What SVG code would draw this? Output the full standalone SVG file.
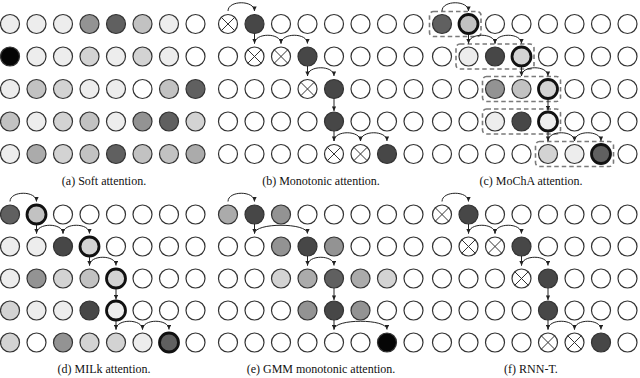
<svg xmlns="http://www.w3.org/2000/svg" xmlns:xlink="http://www.w3.org/1999/xlink" width="640" height="378" viewBox="0 0 640 378">
<style>
.panel{fill:#fff;stroke:#333;stroke-width:1.2}
.f1{fill:#ededed}.f2{fill:#d3d3d3}.f3{fill:#c2c2c2}.f4{fill:#ababab}.f5{fill:#939393}.f6{fill:#606060}.f7{fill:#474747}.f8{fill:#050505}
.k{stroke:#111;stroke-width:2.8}
.conn path{fill:none;stroke:#222;stroke-width:1}
.conn .arr{marker-end:url(#ah)}
.box rect{fill:none;stroke:#7a7a7a;stroke-width:1.6;stroke-dasharray:4.5 3}
.cap{font-family:"Liberation Serif","Times New Roman",serif;font-size:12px;fill:#111;text-anchor:middle}
</style>
<defs>
<circle id="c" r="9.5"/>
<g id="xn"><circle r="9.5"/><path d="M-6.7,-6.7L6.7,6.7M-6.7,6.7L6.7,-6.7" fill="none" stroke-width="1"/></g>
<marker id="ah" markerUnits="userSpaceOnUse" markerWidth="5" markerHeight="4.4" refX="4.6" refY="2.2" orient="auto"><path d="M0,0L4.6,2.2L0,4.4z" fill="#222"/></marker>
</defs>

<!-- Panel (a) -->
<g id="panel-a" class="panel" transform="translate(10,24)">
<g id="a11"><use href="#c" x="0" y="0" class="f1"/></g><g id="a12"><use href="#c" x="26.5" y="0" class="f1"/></g><g id="a13"><use href="#c" x="53" y="0" class="f1"/></g><g id="a14"><use href="#c" x="79.5" y="0" class="f5"/></g><g id="a15"><use href="#c" x="106" y="0" class="f6"/></g><g id="a16"><use href="#c" x="132.5" y="0" class="f3"/></g><g id="a17"><use href="#c" x="159" y="0" class="f1"/></g><g id="a18"><use href="#c" x="185.5" y="0"/></g>
<g id="a21"><use href="#c" x="0" y="32.5" class="f8"/></g><g id="a22"><use href="#c" x="26.5" y="32.5" class="f1"/></g><g id="a23"><use href="#c" x="53" y="32.5" class="f1"/></g><g id="a24"><use href="#c" x="79.5" y="32.5" class="f2"/></g><g id="a25"><use href="#c" x="106" y="32.5" class="f1"/></g><g id="a26"><use href="#c" x="132.5" y="32.5" class="f2"/></g><g id="a27"><use href="#c" x="159" y="32.5" class="f1"/></g><g id="a28"><use href="#c" x="185.5" y="32.5"/></g>
<g id="a31"><use href="#c" x="0" y="65" class="f1"/></g><g id="a32"><use href="#c" x="26.5" y="65" class="f3"/></g><g id="a33"><use href="#c" x="53" y="65" class="f2"/></g><g id="a34"><use href="#c" x="79.5" y="65" class="f1"/></g><g id="a35"><use href="#c" x="106" y="65" class="f1"/></g><g id="a36"><use href="#c" x="132.5" y="65"/></g><g id="a37"><use href="#c" x="159" y="65" class="f3"/></g><g id="a38"><use href="#c" x="185.5" y="65" class="f6"/></g>
<g id="a41"><use href="#c" x="0" y="97.5" class="f3"/></g><g id="a42"><use href="#c" x="26.5" y="97.5" class="f1"/></g><g id="a43"><use href="#c" x="53" y="97.5" class="f2"/></g><g id="a44"><use href="#c" x="79.5" y="97.5" class="f3"/></g><g id="a45"><use href="#c" x="106" y="97.5" class="f1"/></g><g id="a46"><use href="#c" x="132.5" y="97.5" class="f5"/></g><g id="a47"><use href="#c" x="159" y="97.5" class="f6"/></g><g id="a48"><use href="#c" x="185.5" y="97.5" class="f2"/></g>
<g id="a51"><use href="#c" x="0" y="130" class="f1"/></g><g id="a52"><use href="#c" x="26.5" y="130" class="f4"/></g><g id="a53"><use href="#c" x="53" y="130" class="f2"/></g><g id="a54"><use href="#c" x="79.5" y="130" class="f3"/></g><g id="a55"><use href="#c" x="106" y="130" class="f6"/></g><g id="a56"><use href="#c" x="132.5" y="130" class="f3"/></g><g id="a57"><use href="#c" x="159" y="130" class="f3"/></g><g id="a58"><use href="#c" x="185.5" y="130" class="f4"/></g>
</g>

<!-- Panel (b) -->
<g id="panel-b" class="panel" transform="translate(228,24)">
<g id="b11"><use href="#xn" x="0" y="0"/></g><g id="b12"><use href="#c" x="26.5" y="0" class="f7"/></g><g id="b13"><use href="#c" x="53" y="0"/></g><g id="b14"><use href="#c" x="79.5" y="0"/></g><g id="b15"><use href="#c" x="106" y="0"/></g><g id="b16"><use href="#c" x="132.5" y="0"/></g><g id="b17"><use href="#c" x="159" y="0"/></g><g id="b18"><use href="#c" x="185.5" y="0"/></g>
<g id="b21"><use href="#c" x="0" y="32.5"/></g><g id="b22"><use href="#xn" x="26.5" y="32.5"/></g><g id="b23"><use href="#xn" x="53" y="32.5"/></g><g id="b24"><use href="#c" x="79.5" y="32.5" class="f7"/></g><g id="b25"><use href="#c" x="106" y="32.5"/></g><g id="b26"><use href="#c" x="132.5" y="32.5"/></g><g id="b27"><use href="#c" x="159" y="32.5"/></g><g id="b28"><use href="#c" x="185.5" y="32.5"/></g>
<g id="b31"><use href="#c" x="0" y="65"/></g><g id="b32"><use href="#c" x="26.5" y="65"/></g><g id="b33"><use href="#c" x="53" y="65"/></g><g id="b34"><use href="#xn" x="79.5" y="65"/></g><g id="b35"><use href="#c" x="106" y="65" class="f7"/></g><g id="b36"><use href="#c" x="132.5" y="65"/></g><g id="b37"><use href="#c" x="159" y="65"/></g><g id="b38"><use href="#c" x="185.5" y="65"/></g>
<g id="b41"><use href="#c" x="0" y="97.5"/></g><g id="b42"><use href="#c" x="26.5" y="97.5"/></g><g id="b43"><use href="#c" x="53" y="97.5"/></g><g id="b44"><use href="#c" x="79.5" y="97.5"/></g><g id="b45"><use href="#c" x="106" y="97.5" class="f7"/></g><g id="b46"><use href="#c" x="132.5" y="97.5"/></g><g id="b47"><use href="#c" x="159" y="97.5"/></g><g id="b48"><use href="#c" x="185.5" y="97.5"/></g>
<g id="b51"><use href="#c" x="0" y="130"/></g><g id="b52"><use href="#c" x="26.5" y="130"/></g><g id="b53"><use href="#c" x="53" y="130"/></g><g id="b54"><use href="#c" x="79.5" y="130"/></g><g id="b55"><use href="#xn" x="106" y="130"/></g><g id="b56"><use href="#xn" x="132.5" y="130"/></g><g id="b57"><use href="#c" x="159" y="130" class="f7"/></g><g id="b58"><use href="#c" x="185.5" y="130"/></g>
</g>

<!-- Panel (c) -->
<g id="panel-c" class="panel" transform="translate(442,24)">
<g id="c11"><use href="#c" x="0" y="0" class="f6"/></g><g id="c12"><use href="#c" x="26.5" y="0" class="f3 k"/></g><g id="c13"><use href="#c" x="53" y="0"/></g><g id="c14"><use href="#c" x="79.5" y="0"/></g><g id="c15"><use href="#c" x="106" y="0"/></g><g id="c16"><use href="#c" x="132.5" y="0"/></g><g id="c17"><use href="#c" x="159" y="0"/></g><g id="c18"><use href="#c" x="185.5" y="0"/></g>
<g id="c21"><use href="#c" x="0" y="32.5"/></g><g id="c22"><use href="#c" x="26.5" y="32.5" class="f1"/></g><g id="c23"><use href="#c" x="53" y="32.5" class="f7"/></g><g id="c24"><use href="#c" x="79.5" y="32.5" class="f2 k"/></g><g id="c25"><use href="#c" x="106" y="32.5"/></g><g id="c26"><use href="#c" x="132.5" y="32.5"/></g><g id="c27"><use href="#c" x="159" y="32.5"/></g><g id="c28"><use href="#c" x="185.5" y="32.5"/></g>
<g id="c31"><use href="#c" x="0" y="65"/></g><g id="c32"><use href="#c" x="26.5" y="65"/></g><g id="c33"><use href="#c" x="53" y="65" class="f5"/></g><g id="c34"><use href="#c" x="79.5" y="65" class="f3"/></g><g id="c35"><use href="#c" x="106" y="65" class="f2 k"/></g><g id="c36"><use href="#c" x="132.5" y="65"/></g><g id="c37"><use href="#c" x="159" y="65"/></g><g id="c38"><use href="#c" x="185.5" y="65"/></g>
<g id="c41"><use href="#c" x="0" y="97.5"/></g><g id="c42"><use href="#c" x="26.5" y="97.5"/></g><g id="c43"><use href="#c" x="53" y="97.5" class="f1"/></g><g id="c44"><use href="#c" x="79.5" y="97.5" class="f7"/></g><g id="c45"><use href="#c" x="106" y="97.5" class="f1 k"/></g><g id="c46"><use href="#c" x="132.5" y="97.5"/></g><g id="c47"><use href="#c" x="159" y="97.5"/></g><g id="c48"><use href="#c" x="185.5" y="97.5"/></g>
<g id="c51"><use href="#c" x="0" y="130"/></g><g id="c52"><use href="#c" x="26.5" y="130"/></g><g id="c53"><use href="#c" x="53" y="130"/></g><g id="c54"><use href="#c" x="79.5" y="130"/></g><g id="c55"><use href="#c" x="106" y="130" class="f2"/></g><g id="c56"><use href="#c" x="132.5" y="130" class="f1"/></g><g id="c57"><use href="#c" x="159" y="130" class="f6 k"/></g><g id="c58"><use href="#c" x="185.5" y="130"/></g>
<g id="c-boxes" class="box">
<rect x="-12.5" y="-12.5" width="51.5" height="25" rx="4"/>
<rect x="14" y="20" width="78" height="25" rx="4"/>
<rect x="40.5" y="52.5" width="78" height="25" rx="4"/>
<rect x="40.5" y="85" width="78" height="25" rx="4"/>
<rect x="93.5" y="117.5" width="78" height="25" rx="4"/>
</g>
</g>

<!-- Panel (d) -->
<g id="panel-d" class="panel" transform="translate(10,214.5)">
<g id="d11"><use href="#c" x="0" y="0" class="f6"/></g><g id="d12"><use href="#c" x="26.5" y="0" class="f3 k"/></g><g id="d13"><use href="#c" x="53" y="0"/></g><g id="d14"><use href="#c" x="79.5" y="0"/></g><g id="d15"><use href="#c" x="106" y="0"/></g><g id="d16"><use href="#c" x="132.5" y="0"/></g><g id="d17"><use href="#c" x="159" y="0"/></g><g id="d18"><use href="#c" x="185.5" y="0"/></g>
<g id="d21"><use href="#c" x="0" y="32" class="f1"/></g><g id="d22"><use href="#c" x="26.5" y="32" class="f1"/></g><g id="d23"><use href="#c" x="53" y="32" class="f7"/></g><g id="d24"><use href="#c" x="79.5" y="32" class="f2 k"/></g><g id="d25"><use href="#c" x="106" y="32"/></g><g id="d26"><use href="#c" x="132.5" y="32"/></g><g id="d27"><use href="#c" x="159" y="32"/></g><g id="d28"><use href="#c" x="185.5" y="32"/></g>
<g id="d31"><use href="#c" x="0" y="64" class="f1"/></g><g id="d32"><use href="#c" x="26.5" y="64" class="f5"/></g><g id="d33"><use href="#c" x="53" y="64" class="f2"/></g><g id="d34"><use href="#c" x="79.5" y="64" class="f3"/></g><g id="d35"><use href="#c" x="106" y="64" class="f2 k"/></g><g id="d36"><use href="#c" x="132.5" y="64"/></g><g id="d37"><use href="#c" x="159" y="64"/></g><g id="d38"><use href="#c" x="185.5" y="64"/></g>
<g id="d41"><use href="#c" x="0" y="96" class="f2"/></g><g id="d42"><use href="#c" x="26.5" y="96" class="f1"/></g><g id="d43"><use href="#c" x="53" y="96" class="f1"/></g><g id="d44"><use href="#c" x="79.5" y="96" class="f7"/></g><g id="d45"><use href="#c" x="106" y="96" class="f1 k"/></g><g id="d46"><use href="#c" x="132.5" y="96"/></g><g id="d47"><use href="#c" x="159" y="96"/></g><g id="d48"><use href="#c" x="185.5" y="96"/></g>
<g id="d51"><use href="#c" x="0" y="128" class="f2"/></g><g id="d52"><use href="#c" x="26.5" y="128"/></g><g id="d53"><use href="#c" x="53" y="128" class="f5"/></g><g id="d54"><use href="#c" x="79.5" y="128" class="f2"/></g><g id="d55"><use href="#c" x="106" y="128" class="f2"/></g><g id="d56"><use href="#c" x="132.5" y="128" class="f1"/></g><g id="d57"><use href="#c" x="159" y="128" class="f6 k"/></g><g id="d58"><use href="#c" x="185.5" y="128"/></g>
</g>

<!-- Panel (e) -->
<g id="panel-e" class="panel" transform="translate(228,214.5)">
<g id="e11"><use href="#c" x="0" y="0" class="f4"/></g><g id="e12"><use href="#c" x="26.5" y="0" class="f7"/></g><g id="e13"><use href="#c" x="53" y="0" class="f5"/></g><g id="e14"><use href="#c" x="79.5" y="0"/></g><g id="e15"><use href="#c" x="106" y="0"/></g><g id="e16"><use href="#c" x="132.5" y="0"/></g><g id="e17"><use href="#c" x="159" y="0"/></g><g id="e18"><use href="#c" x="185.5" y="0"/></g>
<g id="e21"><use href="#c" x="0" y="32"/></g><g id="e22"><use href="#c" x="26.5" y="32"/></g><g id="e23"><use href="#c" x="53" y="32" class="f5"/></g><g id="e24"><use href="#c" x="79.5" y="32" class="f7"/></g><g id="e25"><use href="#c" x="106" y="32" class="f5"/></g><g id="e26"><use href="#c" x="132.5" y="32"/></g><g id="e27"><use href="#c" x="159" y="32"/></g><g id="e28"><use href="#c" x="185.5" y="32"/></g>
<g id="e31"><use href="#c" x="0" y="64"/></g><g id="e32"><use href="#c" x="26.5" y="64"/></g><g id="e33"><use href="#c" x="53" y="64" class="f2"/></g><g id="e34"><use href="#c" x="79.5" y="64" class="f4"/></g><g id="e35"><use href="#c" x="106" y="64" class="f6"/></g><g id="e36"><use href="#c" x="132.5" y="64" class="f4"/></g><g id="e37"><use href="#c" x="159" y="64" class="f2"/></g><g id="e38"><use href="#c" x="185.5" y="64"/></g>
<g id="e41"><use href="#c" x="0" y="96"/></g><g id="e42"><use href="#c" x="26.5" y="96"/></g><g id="e43"><use href="#c" x="53" y="96"/></g><g id="e44"><use href="#c" x="79.5" y="96" class="f5"/></g><g id="e45"><use href="#c" x="106" y="96" class="f7"/></g><g id="e46"><use href="#c" x="132.5" y="96" class="f5"/></g><g id="e47"><use href="#c" x="159" y="96"/></g><g id="e48"><use href="#c" x="185.5" y="96"/></g>
<g id="e51"><use href="#c" x="0" y="128"/></g><g id="e52"><use href="#c" x="26.5" y="128"/></g><g id="e53"><use href="#c" x="53" y="128"/></g><g id="e54"><use href="#c" x="79.5" y="128"/></g><g id="e55"><use href="#c" x="106" y="128"/></g><g id="e56"><use href="#c" x="132.5" y="128"/></g><g id="e57"><use href="#c" x="159" y="128" class="f8"/></g><g id="e58"><use href="#c" x="185.5" y="128"/></g>
</g>

<!-- Panel (f) -->
<g id="panel-f" class="panel" transform="translate(442,214.5)">
<g id="f11"><use href="#xn" x="0" y="0"/></g><g id="f12"><use href="#c" x="26.5" y="0" class="f7"/></g><g id="f13"><use href="#c" x="53" y="0"/></g><g id="f14"><use href="#c" x="79.5" y="0"/></g><g id="f15"><use href="#c" x="106" y="0"/></g><g id="f16"><use href="#c" x="132.5" y="0"/></g><g id="f17"><use href="#c" x="159" y="0"/></g><g id="f18"><use href="#c" x="185.5" y="0"/></g>
<g id="f21"><use href="#c" x="0" y="32"/></g><g id="f22"><use href="#xn" x="26.5" y="32"/></g><g id="f23"><use href="#xn" x="53" y="32"/></g><g id="f24"><use href="#c" x="79.5" y="32" class="f7"/></g><g id="f25"><use href="#c" x="106" y="32"/></g><g id="f26"><use href="#c" x="132.5" y="32"/></g><g id="f27"><use href="#c" x="159" y="32"/></g><g id="f28"><use href="#c" x="185.5" y="32"/></g>
<g id="f31"><use href="#c" x="0" y="64"/></g><g id="f32"><use href="#c" x="26.5" y="64"/></g><g id="f33"><use href="#c" x="53" y="64"/></g><g id="f34"><use href="#xn" x="79.5" y="64"/></g><g id="f35"><use href="#c" x="106" y="64" class="f7"/></g><g id="f36"><use href="#c" x="132.5" y="64"/></g><g id="f37"><use href="#c" x="159" y="64"/></g><g id="f38"><use href="#c" x="185.5" y="64"/></g>
<g id="f41"><use href="#c" x="0" y="96"/></g><g id="f42"><use href="#c" x="26.5" y="96"/></g><g id="f43"><use href="#c" x="53" y="96"/></g><g id="f44"><use href="#c" x="79.5" y="96"/></g><g id="f45"><use href="#c" x="106" y="96" class="f7"/></g><g id="f46"><use href="#c" x="132.5" y="96"/></g><g id="f47"><use href="#c" x="159" y="96"/></g><g id="f48"><use href="#c" x="185.5" y="96"/></g>
<g id="f51"><use href="#c" x="0" y="128"/></g><g id="f52"><use href="#c" x="26.5" y="128"/></g><g id="f53"><use href="#c" x="53" y="128"/></g><g id="f54"><use href="#c" x="79.5" y="128"/></g><g id="f55"><use href="#xn" x="106" y="128"/></g><g id="f56"><use href="#xn" x="132.5" y="128"/></g><g id="f57"><use href="#c" x="159" y="128" class="f7"/></g><g id="f58"><use href="#c" x="185.5" y="128"/></g>
</g>

<!-- Connectors -->
<g id="connectors" class="conn">
<g id="conn-b" transform="translate(228,24)">
<path class="arr" d="M0,-13C0,-24 26.5,-24 26.5,-13"/>
<path class="arr" d="M26.5,9.5V19.5"/>
<path class="arr" d="M26.5,19.5C26.5,8.5 53,8.5 53,19.5"/>
<path class="arr" d="M53,19.5C53,8.5 79.5,8.5 79.5,19.5"/>
<path class="arr" d="M79.5,42V52"/>
<path class="arr" d="M79.5,52C79.5,41 106,41 106,52"/>
<path class="arr" d="M106,74.5V87"/>
<path class="arr" d="M106,107V117"/>
<path class="arr" d="M106,117C106,106 132.5,106 132.5,117"/>
<path class="arr" d="M132.5,117C132.5,106 159,106 159,117"/>
</g>
<g id="conn-c" transform="translate(442,24)">
<path class="arr" d="M0,-13C0,-24 26.5,-24 26.5,-13"/>
<path class="arr" d="M26.5,10.5V19.5"/>
<path class="arr" d="M26.5,19.5C26.5,8.5 53,8.5 53,19.5"/>
<path class="arr" d="M53,19.5C53,8.5 79.5,8.5 79.5,19.5"/>
<path class="arr" d="M79.5,43V52"/>
<path class="arr" d="M79.5,52C79.5,41 106,41 106,52"/>
<path class="arr" d="M106,75.5V86.5"/>
<path class="arr" d="M106,108V117"/>
<path class="arr" d="M106,117C106,106 132.5,106 132.5,117"/>
<path class="arr" d="M132.5,117C132.5,106 159,106 159,117"/>
</g>
<g id="conn-d" transform="translate(10,214.5)">
<path class="arr" d="M0,-13C0,-24 26.5,-24 26.5,-13"/>
<path class="arr" d="M26.5,10.5V19"/>
<path class="arr" d="M26.5,19C26.5,8 53,8 53,19"/>
<path class="arr" d="M53,19C53,8 79.5,8 79.5,19"/>
<path class="arr" d="M79.5,42.5V51"/>
<path class="arr" d="M79.5,51C79.5,40 106,40 106,51"/>
<path class="arr" d="M106,74.5V85"/>
<path class="arr" d="M106,106.5V115"/>
<path class="arr" d="M106,115C106,104 132.5,104 132.5,115"/>
<path class="arr" d="M132.5,115C132.5,104 159,104 159,115"/>
</g>
<g id="conn-e" transform="translate(228,214.5)">
<path class="arr" d="M0,-13C0,-24 26.5,-24 26.5,-13"/>
<path class="arr" d="M26.5,9.5V19"/>
<path class="arr" d="M26.5,19C26.5,8 79.5,8 79.5,19"/>
<path class="arr" d="M79.5,41.5V51"/>
<path class="arr" d="M79.5,51C79.5,40 106,40 106,51"/>
<path class="arr" d="M106,73.5V85.5"/>
<path class="arr" d="M106,105.5V115"/>
<path class="arr" d="M106,115C106,104 159,104 159,115"/>
</g>
<g id="conn-f" transform="translate(442,214.5)">
<path class="arr" d="M0,-13C0,-24 26.5,-24 26.5,-13"/>
<path class="arr" d="M26.5,9.5V19"/>
<path class="arr" d="M26.5,19C26.5,8 53,8 53,19"/>
<path class="arr" d="M53,19C53,8 79.5,8 79.5,19"/>
<path class="arr" d="M79.5,41.5V51"/>
<path class="arr" d="M79.5,51C79.5,40 106,40 106,51"/>
<path class="arr" d="M106,73.5V85.5"/>
<path class="arr" d="M106,105.5V115"/>
<path class="arr" d="M106,115C106,104 132.5,104 132.5,115"/>
<path class="arr" d="M132.5,115C132.5,104 159,104 159,115"/>
</g>
</g>

<!-- Captions -->
<g id="captions">
<text class="cap" x="104" y="185">(a) Soft attention.</text>
<text class="cap" x="321" y="185">(b) Monotonic attention.</text>
<text class="cap" x="531" y="185">(c) MoChA attention.</text>
<text class="cap" x="104" y="373">(d) MILk attention.</text>
<text class="cap" x="321" y="373">(e) GMM monotonic attention.</text>
<text class="cap" x="531" y="373">(f) RNN-T.</text>
</g>
</svg>
